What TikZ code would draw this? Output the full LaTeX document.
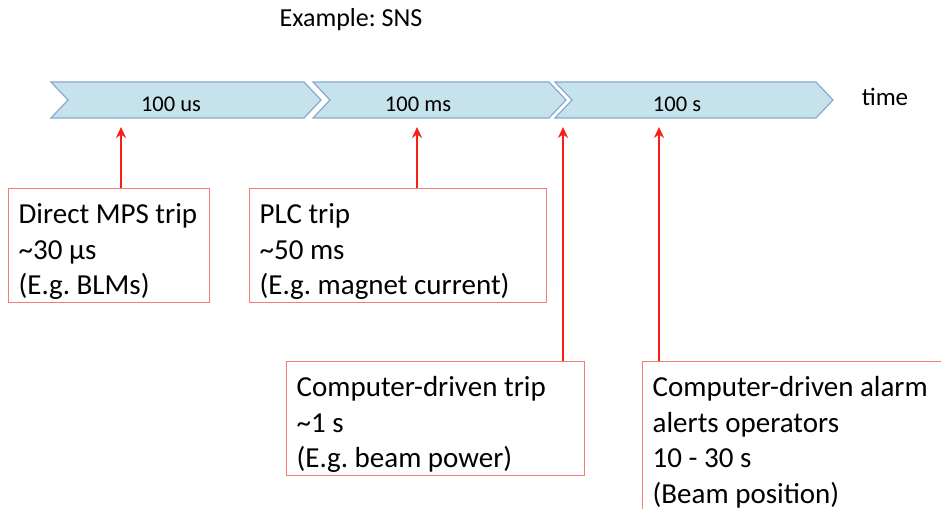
\documentclass[tikz,border=0pt]{standalone}
\usepackage{fontspec}
\setmainfont{Carlito}
\usetikzlibrary{arrows.meta}

\definecolor{segfill}{RGB}{198,227,235}
\definecolor{segline}{RGB}{135,168,208}
\definecolor{tripred}{RGB}{250,30,25}
\definecolor{boxline}{RGB}{245,125,115}

\begin{document}
\frenchspacing
\begin{tikzpicture}[x=1pt, y=1pt,
  seg/.style={fill=segfill, draw=segline, line width=1.2pt},
  lbl/.style={anchor=base, inner sep=0pt, font=\fontsize{22.5}{27}\selectfont},
  trip/.style={draw=boxline, line width=1.3pt, anchor=north west, align=flush left,
    inner xsep=10pt, inner ysep=0pt, text height=35pt,
    font=\fontsize{29}{35.5}\selectfont},
  hit/.style={draw=tripred, line width=2.5pt, -{Stealth[length=11pt, width=10pt]}}]
  \useasboundingbox (0,0) rectangle (941,508);
  \node[lbl, font=\fontsize{26}{30}\selectfont] (title) at (351,481) {Example: SNS};
  % time line
  \foreach \a/\b in {51/321, 313/566, 555/833}
    \draw[seg] (\a,426) -- (\b-17,426) -- (\b,408) -- (\b-17,390) -- (\a,390) -- (\a+17,408) -- cycle;
  \node[lbl] (us) at (171,396) {100 us};
  \node[lbl] (ms) at (418,396) {100 ms};
  \node[lbl] (sec) at (677,396) {100 s};
  \node[lbl, font=\fontsize{25}{30}\selectfont] (time) at (885,402) {time};
  % trip boxes
  \node[trip, text width=181pt, text depth=79pt] (mps) at (8,320)
    {Direct MPS trip\\\textasciitilde30 μs\\(E.g. BLMs)};
  \node[trip, text width=277pt, text depth=79pt] (plc) at (249,320)
    {PLC trip\\\textasciitilde50 ms\\(E.g. magnet current)};
  \node[trip, text width=278pt, text depth=79pt] (comp) at (286,147)
    {Computer-driven trip\\\textasciitilde1 s\\(E.g. beam power)};
  \node[trip, text width=340pt, text depth=136pt] (alarm) at (642,147)
    {Computer-driven alarm\\alerts operators\\10 - 30 s\\(Beam position)};
  \coordinate (t1) at (121,381);
  \coordinate (t2) at (417,381);
  \coordinate (t3) at (563,381);
  \coordinate (t4) at (659,381);
  \path
  (mps.north -| t1) edge[hit] (t1)
  (plc.north -| t2) edge[hit] (t2)
  (comp.north -| t3) edge[hit] (t3)
  (alarm.north -| t4) edge[hit] (t4);
\end{tikzpicture}
\end{document}
